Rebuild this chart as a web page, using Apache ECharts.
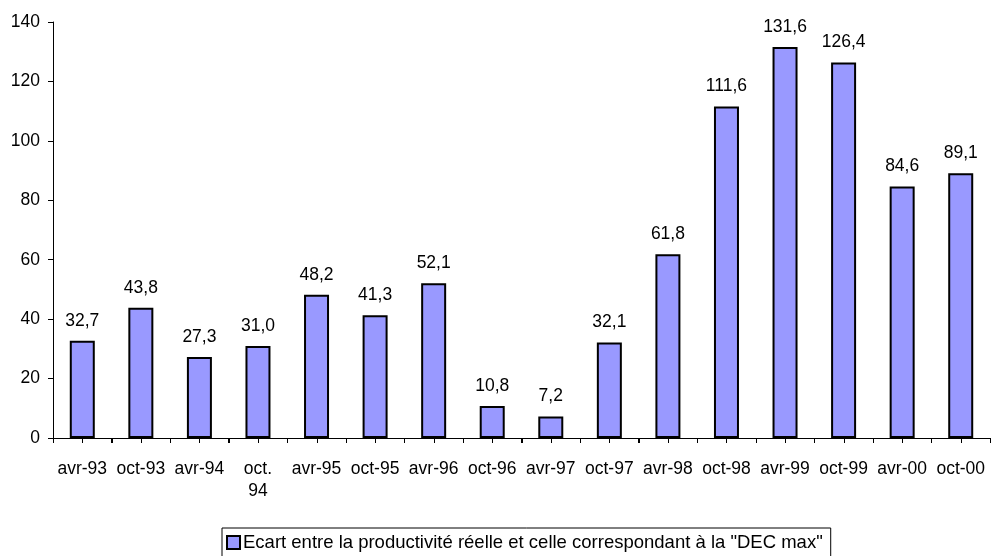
<!DOCTYPE html>
<html>
<head>
<meta charset="utf-8">
<script src="https://cdn.jsdelivr.net/npm/echarts@6/dist/echarts.min.js"></script>
<style>
  html, body { margin: 0; padding: 0; background: #fff; }
  #chart { width: 998px; height: 556px; }
</style>
</head>
<body>
<div id="chart"></div>
<script>
// Periods (half-yearly)
const categories = ['avr-93', 'oct-93', 'avr-94', 'oct.\n94', 'avr-95', 'oct-95', 'avr-96', 'oct-96',
  'avr-97', 'oct-97', 'avr-98', 'oct-98', 'avr-99', 'oct-99', 'avr-00', 'oct-00'];
// Gap between actual productivity and "DEC max" productivity
const ecartValues = [32.7, 43.8, 27.3, 31.0, 48.2, 41.3, 52.1, 10.8, 7.2, 32.1, 61.8, 111.6, 131.6, 126.4, 84.6, 89.1];
const seriesName = 'Ecart entre la productivité réelle et celle correspondant à la "DEC max"';
const yTicks = [0, 20, 40, 60, 80, 100, 120, 140];

const font = 'Liberation Sans, Arial, sans-serif';
const chart = echarts.init(document.getElementById('chart'), null, { renderer: 'canvas' });

chart.setOption({
  animation: false,
  textStyle: { fontFamily: font },
  grid: { left: 53, right: 8, top: 22, bottom: 118, containLabel: false },
  xAxis: {
    type: 'category',
    data: categories,
    axisLine: { lineStyle: { color: '#000', width: 1 } },
    axisTick: { show: true, interval: 0, length: 5, lineStyle: { color: '#000' } },
    axisLabel: { color: '#000', fontSize: 17.5, fontFamily: font, margin: 20, lineHeight: 22, interval: 0 }
  },
  yAxis: {
    type: 'value',
    min: yTicks[0],
    max: yTicks[yTicks.length - 1],
    interval: 20,
    axisLine: { show: true, lineStyle: { color: '#000', width: 1 } },
    axisTick: { show: true, length: 5, lineStyle: { color: '#000' } },
    splitLine: { show: false },
    axisLabel: { color: '#000', fontSize: 17.5, fontFamily: font, margin: 13 }
  },
  legend: {
    left: 222,
    top: 528,
    data: [seriesName],
    icon: 'rect',
    itemWidth: 13,
    itemHeight: 13,
    itemGap: 5,
    padding: [5, 8, 5, 4],
    borderColor: '#000',
    borderWidth: 1,
    textStyle: { color: '#000', fontSize: 18.5, fontFamily: font, padding: [0, 0, 0, -2] },
    itemStyle: { borderColor: '#000', borderWidth: 2 }
  },
  series: [{
    name: seriesName,
    type: 'bar',
    data: ecartValues,
    barWidth: 25,
    itemStyle: { color: '#9999FF', borderColor: '#000', borderWidth: 2 },
    label: {
      show: true,
      position: 'top',
      distance: 11,
      color: '#000',
      fontSize: 17.5,
      fontFamily: font,
      formatter: function (p) { return p.value.toFixed(1).replace('.', ','); }
    }
  }]
});

// Tick marks under the category axis at every boundary and every centre,
// positioned through the axis scale.
(function addHalfTicks() {
  const first = chart.convertToPixel({ xAxisIndex: 0 }, 0);
  const second = chart.convertToPixel({ xAxisIndex: 0 }, 1);
  const zero = chart.convertToPixel({ yAxisIndex: 0 }, 0);
  if (first == null || second == null || zero == null) return;
  const half = (second - first) / 2;
  const ticks = [];
  for (let k = 0; k <= categories.length * 2; k++) {
    const x = Math.round(first - half + k * half) + 0.5;
    ticks.push({
      type: 'line',
      silent: true,
      z: 10,
      shape: { x1: x, y1: zero, x2: x, y2: zero + 5 },
      style: { stroke: '#000', lineWidth: 1 }
    });
  }
  chart.setOption({ graphic: ticks });
})();
</script>
</body>
</html>
